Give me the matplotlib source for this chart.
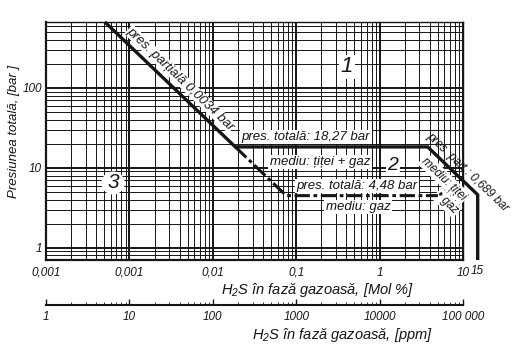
import numpy as np
import matplotlib
matplotlib.use("Agg")
import matplotlib.pyplot as plt
from matplotlib.ticker import LogLocator, NullFormatter, FixedLocator
import matplotlib.transforms as mtransforms

# ---------------- data ----------------
x_tick_vals = [1e-4, 1e-3, 1e-2, 1e-1, 1, 10]
x_tick_labels = ["0,001", "0,001", "0,01", "0,1", "1", "10"]
x_extra_tick = 15
x_extra_label = "15"
y_tick_vals = [1, 10, 100]
y_tick_labels = ["1", "10", "100"]
ppm_tick_vals = [1, 10, 100, 1000, 10000, 100000]
ppm_tick_labels = ["1", "10", "100", "1000", "10000", "100 000"]

pp_gas = 0.0034         # bar, partial pressure limit
p_total_multi = 18.27   # bar, total pressure (oil + gas)
p_total_gas = 4.48      # bar, total pressure (gas)
pp_multi = 0.689        # bar, partial pressure limit (oil + gas)
h2s_max_multi = 15      # mol %
gas_line_end = 5.0      # mol %, end of the gas line

xlim = (1e-4, 10)
ylim = (0.7, 670)

# derived break points of the boundary lines
x_top = pp_gas * 100 / ylim[1]
x_a = pp_gas * 100 / p_total_multi
x_b = pp_multi * 100 / p_total_multi
p_c = pp_multi * 100 / h2s_max_multi
x_g = pp_gas * 100 / p_total_gas

solid_x = [x_top, x_a, x_b, h2s_max_multi, h2s_max_multi]
solid_y = [ylim[1], p_total_multi, p_total_multi, p_c, ylim[0]]
dash_x = [x_a, x_g, gas_line_end]
dash_y = [p_total_multi, p_total_gas, p_total_gas]

# ---------------- style ----------------
plt.rcParams["font.family"] = ["Liberation Sans", "DejaVu Sans"]
plt.rcParams["font.style"] = "italic"
plt.rcParams["mathtext.fontset"] = "custom"
plt.rcParams["mathtext.rm"] = "Liberation Sans:italic"
plt.rcParams["mathtext.it"] = "Liberation Sans:italic"
plt.rcParams["mathtext.default"] = "it"

ink = "#151515"
fig = plt.figure(figsize=(5.12, 3.51), dpi=100)
ax = fig.add_axes([46 / 512, 1 - 260 / 351, 417 / 512, 238 / 351])
ax.set_xscale("log")
ax.set_yscale("log")
ax.set_xlim(*xlim)
ax.set_ylim(*ylim)

ax.xaxis.set_major_locator(FixedLocator(x_tick_vals))
ax.set_xticklabels(x_tick_labels)
ax.xaxis.set_minor_locator(LogLocator(base=10, subs=np.arange(2, 10)))
ax.xaxis.set_minor_formatter(NullFormatter())
ax.yaxis.set_major_locator(FixedLocator(y_tick_vals))
ax.set_yticklabels(y_tick_labels)
ax.yaxis.set_minor_locator(LogLocator(base=10, subs=np.arange(2, 10)))
ax.yaxis.set_minor_formatter(NullFormatter())

ax.set_axisbelow(True)
ax.grid(which="major", color=ink, lw=1.4)
ax.grid(which="minor", color=ink, lw=0.7)
ax.tick_params(which="both", length=0, labelsize=8.5, colors=ink)
ax.tick_params(axis="x", pad=5)
ax.tick_params(axis="y", pad=3)
for s in ax.spines.values():
    s.set_color(ink)
    s.set_linewidth(1.0)
ax.spines["left"].set_linewidth(1.6)
ax.spines["bottom"].set_linewidth(1.6)

trans_xd = mtransforms.blended_transform_factory(ax.transData, ax.transAxes)
ax.text(x_extra_tick, -0.021, x_extra_label, transform=trans_xd, ha="center",
        va="top", fontsize=8.5, color=ink)

# boundary lines
ax.plot(solid_x, solid_y, color=ink, lw=2.4, solid_capstyle="butt",
        solid_joinstyle="miter", clip_on=False, zorder=5)
ax.plot(dash_x, dash_y, color=ink, lw=2.2, linestyle=(0, (5, 1.2, 1.2, 1.2)),
        clip_on=False, zorder=5)

# screen angle of the partial-pressure lines
p1 = ax.transData.transform((x_a, p_total_multi))
p2 = ax.transData.transform((x_g, p_total_gas))
ang = np.degrees(np.arctan2(p2[1] - p1[1], p2[0] - p1[0]))

# annotations
fs = 9.5
box = dict(facecolor="white", edgecolor="none", pad=1.0)
tkw = dict(transform=ax.transAxes, ha="center", va="center", color=ink)

x_lab = 7.9e-4
ax.annotate("pres. parțială 0,0034 bar", xy=(x_lab, pp_gas * 100 / x_lab),
            xytext=(2.6, 2.6), textcoords="offset points", rotation=ang,
            rotation_mode="anchor", ha="left", va="bottom", fontsize=fs,
            color=ink, bbox=dict(facecolor="white", edgecolor="none", pad=0.3),
            zorder=4)
ax.text((347 - 46) / 417, (260 - 67) / 238, "1", fontsize=16, bbox=box, **tkw)
ax.text((306 - 46) / 417, (260 - 137) / 238, "pres. totală: 18,27 bar",
        fontsize=fs, bbox=box, **tkw)
ax.text((320 - 46) / 417, (260 - 162) / 238, "mediu: țiței + gaz",
        fontsize=fs, bbox=box, **tkw)
ax.text((393 - 46) / 417, (260 - 165) / 238, "2", fontsize=14, bbox=box, **tkw)
ax.text((113 - 46) / 417, (260 - 183) / 238, "3", fontsize=15,
        bbox=dict(facecolor="white", edgecolor="none", boxstyle="circle,pad=0.1"),
        **tkw)
ax.text((357 - 46) / 417, (260 - 186) / 238, "pres. totală: 4,48 bar",
        fontsize=fs, bbox=box, **tkw)
ax.text((358 - 46) / 417, (260 - 207) / 238, "mediu: gaz",
        fontsize=fs, bbox=box, **tkw)
ax.text((468 - 46) / 417, (260 - 172) / 238, "pres. part.: 0,689 bar",
        rotation=ang, fontsize=8.5, clip_on=False, **tkw)
ax.text((444 - 46) / 417, (260 - 179) / 238, "mediu: țiței",
        rotation=ang, fontsize=8.5, bbox=box, **tkw)
ax.text((447 - 46) / 417, (260 - 203) / 238, "• gaz",
        rotation=ang, fontsize=8.5, bbox=box, **tkw)

# axis titles
ax.text((318 - 46) / 417, (260 - 290) / 238, "H$_2$S în fază gazoasă, [Mol %]",
        fontsize=10.5, clip_on=False, **tkw)
ax.text((342 - 46) / 417, (260 - 335) / 238, "H$_2$S în fază gazoasă, [ppm]",
        fontsize=10.5, clip_on=False, **tkw)
ax.text((14 - 46) / 417, (260 - 132) / 238, "Presiunea totală, [bar ]",
        rotation=90, fontsize=9.5, clip_on=False, **tkw)

# secondary ppm scale
sec = ax.secondary_xaxis((260 - 305) / 238,
                         functions=(lambda v: v * 1e4, lambda v: v / 1e4))
sec.xaxis.set_major_locator(FixedLocator(ppm_tick_vals))
sec.set_xticklabels(ppm_tick_labels)
sec.xaxis.set_minor_locator(LogLocator(base=10, subs=np.arange(2, 10)))
sec.xaxis.set_minor_formatter(NullFormatter())
sec.tick_params(which="major", direction="in", length=4, width=1.0,
                labelsize=8.5, colors=ink, pad=4)
sec.tick_params(which="minor", direction="in", length=2, width=0.6, colors=ink)
sec.spines["bottom"].set_linewidth(1.5)
sec.spines["bottom"].set_color(ink)

fig.savefig("out.png", dpi=100, facecolor="white")
